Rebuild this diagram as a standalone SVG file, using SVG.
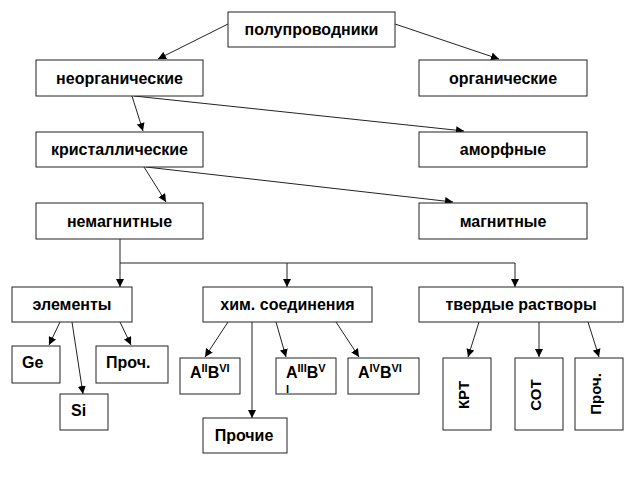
<svg xmlns="http://www.w3.org/2000/svg" width="636" height="481" viewBox="0 0 636 481">
<defs>
<marker id="ah" viewBox="0 0 10 10" refX="10" refY="5" markerWidth="8" markerHeight="8" markerUnits="userSpaceOnUse" orient="auto">
<path d="M0,0 L10,5 L0,10 z" fill="#000"/>
</marker>
</defs>
<style>
rect{fill:#fff;stroke:#222;stroke-width:1}
text{font-family:"Liberation Sans",Arial,sans-serif;font-weight:bold;font-size:16px;fill:#000}
.c{text-anchor:middle}
.sup{font-size:11px}
.v{font-size:15px}
#edges line,#edges polyline{stroke:#222;stroke-width:1;fill:none}
.a{marker-end:url(#ah)}
</style>
<rect x="0" y="0" width="636" height="481" style="fill:#fff;stroke:none"/>
<g id="edges">
<line class="a" x1="228" y1="24" x2="158" y2="59"/>
<line class="a" x1="395" y1="24" x2="499" y2="59"/>
<line class="a" x1="132" y1="96" x2="143" y2="131"/>
<line class="a" x1="134" y1="96" x2="464" y2="131"/>
<line class="a" x1="144" y1="167" x2="166" y2="202"/>
<line class="a" x1="146" y1="167" x2="453" y2="202"/>
<polyline points="120,239 120,263 515,263"/>
<line class="a" x1="120" y1="263" x2="120" y2="287"/>
<line class="a" x1="287" y1="263" x2="287" y2="287"/>
<line class="a" x1="515" y1="263" x2="515" y2="287"/>
<line class="a" x1="60" y1="322" x2="49" y2="345"/>
<line class="a" x1="72" y1="322" x2="83" y2="394"/>
<line class="a" x1="120" y1="322" x2="131" y2="345"/>
<line class="a" x1="228" y1="322" x2="205" y2="357"/>
<line class="a" x1="252" y1="322" x2="252" y2="418"/>
<line class="a" x1="276" y1="322" x2="286" y2="357"/>
<line class="a" x1="336" y1="322" x2="359" y2="357"/>
<line class="a" x1="479" y1="322" x2="468" y2="357"/>
<line class="a" x1="539" y1="322" x2="539" y2="357"/>
<line class="a" x1="588" y1="322" x2="599" y2="357"/>
</g>
<g id="n-polu"><rect x="228" y="12" width="167" height="35"/><text class="c" x="311.5" y="35">полупроводники</text></g>
<g id="n-neorg"><rect x="36" y="60" width="167" height="36"/><text class="c" x="119.5" y="83.5">неорганические</text></g>
<g id="n-org"><rect x="419" y="60" width="168" height="36"/><text class="c" x="503" y="83.5">органические</text></g>
<g id="n-krist"><rect x="36" y="132" width="167" height="35"/><text class="c" x="119.5" y="155">кристаллические</text></g>
<g id="n-amorf"><rect x="419" y="132" width="168" height="35"/><text class="c" x="503" y="155">аморфные</text></g>
<g id="n-nemag"><rect x="36" y="203" width="167" height="36"/><text class="c" x="119.5" y="226.5">немагнитные</text></g>
<g id="n-mag"><rect x="419" y="203" width="168" height="36"/><text class="c" x="503" y="226.5">магнитные</text></g>
<g id="n-elem"><rect x="12" y="287" width="120" height="35"/><text class="c" x="72" y="310">элементы</text></g>
<g id="n-him"><rect x="203" y="287" width="169" height="35"/><text class="c" x="287.5" y="310">хим. соединения</text></g>
<g id="n-tverd"><rect x="419" y="287" width="204" height="35"/><text class="c" x="521" y="310">твердые растворы</text></g>
<g id="n-ge"><rect x="12" y="346" width="48" height="37"/><text x="22" y="368">Ge</text></g>
<g id="n-si"><rect x="60" y="394" width="48" height="36"/><text x="71" y="416">Si</text></g>
<g id="n-proch1"><rect x="96" y="346" width="72" height="37"/><text x="106" y="368">Проч.</text></g>
<g id="n-a2b6"><rect x="180" y="358" width="60" height="36"/><text x="190" y="378">A<tspan class="sup" dy="-6">II</tspan><tspan dy="6">B</tspan><tspan class="sup" dy="-6">VI</tspan></text></g>
<g id="n-a3b5"><rect x="276" y="358" width="60" height="36"/><text x="286" y="378">A<tspan class="sup" dy="-6">III</tspan><tspan dy="6">B</tspan><tspan class="sup" dy="-6">V</tspan></text><text class="sup" x="286" y="393">I</text></g>
<g id="n-a4b6"><rect x="348" y="358" width="71" height="36"/><text x="358" y="378">A<tspan class="sup" dy="-6">IV</tspan><tspan dy="6">B</tspan><tspan class="sup" dy="-6">VI</tspan></text></g>
<g id="n-prochie"><rect x="203" y="418" width="84" height="35"/><text class="c" x="244" y="441">Прочие</text></g>
<g id="n-krt"><rect x="443" y="358" width="48" height="72"/><text class="c v" transform="translate(469,395) rotate(-90)">КРТ</text></g>
<g id="n-sot"><rect x="515" y="358" width="48" height="72"/><text class="c v" transform="translate(541,395) rotate(-90)">СОТ</text></g>
<g id="n-proch2"><rect x="575" y="358" width="48" height="72"/><text class="c v" transform="translate(601,394) rotate(-90)">Проч.</text></g>
</svg>
